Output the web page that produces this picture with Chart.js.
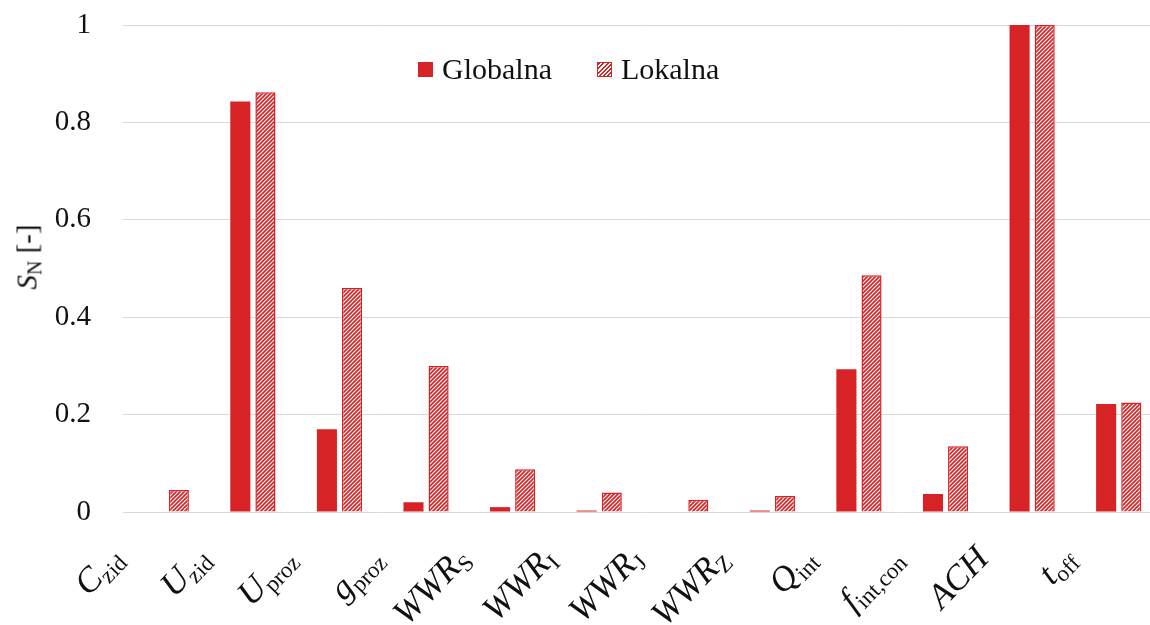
<!DOCTYPE html>
<html><head><meta charset="utf8"/>
<style>
body{margin:0;overflow:hidden;background:#fff;}
#wrap{position:relative;width:1165px;height:625px;font-family:'Liberation Serif','Times New Roman',serif;color:#111;}
.xl{position:absolute;white-space:nowrap;font-size:35px;line-height:35px;transform-origin:100% 50%;transform:translate(-100%,-50%) rotate(-46deg);}
.xl i{font-style:italic;}
.xl sub{font-size:23px;vertical-align:-6px;line-height:0;}
#ytitle{position:absolute;left:27px;top:257px;white-space:nowrap;font-size:29px;transform:translate(-50%,-50%) rotate(-90deg);}
#ytitle sub{font-size:20px;vertical-align:-5px;line-height:0;}
#legend{position:absolute;left:418px;top:52px;font-size:30px;display:flex;align-items:center;white-space:nowrap;}
#legend .box{display:inline-block;width:15px;height:15px;margin-right:9px;box-sizing:border-box;}
#legend .item{display:flex;align-items:center;margin-right:45px;}
</style></head>
<body>
<div id="wrap">
<canvas id="c" width="1165" height="625"></canvas>
<div id="ytitle"><i>S</i><sub>N</sub> [-]</div>
<div id="legend"></div>
</div>
<script src="https://cdn.jsdelivr.net/npm/chart.js"></script>
<script>
const labelMain = ['C', 'U', 'U', 'g', 'WWR', 'WWR', 'WWR', 'WWR', 'Q', 'f', 'ACH', 't'];
const labelSub  = ['zid', 'zid', 'proz', 'proz', 'S', 'I', 'J', 'Z', 'int', 'int,con', '', 'off'];
const globalna  = [0, 0.843, 0.170, 0.020, 0.010, 0.003, 0, 0.003, 0.293, 0.037, 1, 0.222];
const lokalna   = [0.045, 0.862, 0.460, 0.300, 0.088, 0.040, 0.025, 0.033, 0.486, 0.135, 1, 0.225];
const seriesNames = ['Globalna', 'Lokalna'];
const yTicks = [0, 0.2, 0.4, 0.6, 0.8, 1];

const RED = '#d72326';

function hatch() {
	const p = document.createElement('canvas');
	p.width = 4; p.height = 4;
	const g = p.getContext('2d');
	g.fillStyle = '#fff';
	g.fillRect(0, 0, 4, 4);
	g.strokeStyle = RED;
	g.lineWidth = 1.7;
	g.beginPath();
	g.moveTo(-1, 5); g.lineTo(5, -1);
	g.moveTo(-1, 1); g.lineTo(1, -1);
	g.moveTo(3, 5); g.lineTo(5, 3);
	g.stroke();
	return g.createPattern(p, 'repeat');
}
const pat = hatch();

const chart = new Chart(document.getElementById('c'), {
	type: 'bar',
	data: {
		labels: labelMain.map((m, i) => m + labelSub[i]),
		datasets: [
			{label: seriesNames[0], data: globalna, backgroundColor: RED, borderWidth: 0},
			{label: seriesNames[1], data: lokalna, backgroundColor: pat, borderColor: RED, borderWidth: 1.5},
		]
	},
	options: {
		responsive: false,
		animation: false,
		categoryPercentage: 0.58,
		barPercentage: 0.8,
		layout: {padding: {top: 25, right: 3, left: 0, bottom: 0}},
		scales: {
			x: {
				grid: {display: false},
				border: {display: false},
				ticks: {display: false},
				afterFit: s => { s.height = 113; },
			},
			y: {
				min: 0, max: 1,
				afterBuildTicks: s => { s.ticks = yTicks.map(v => ({value: v})); },
				grid: {color: '#d9d9d9', lineWidth: 1, drawTicks: false},
				border: {display: false},
				ticks: {
					padding: 32,
					color: '#111',
					font: {family: "'Liberation Serif', serif", size: 29},
					callback: v => String(v),
				},
				afterFit: s => { s.width = 123; s.paddingTop = 0; s.paddingBottom = 0; },
			}
		},
		plugins: {
			legend: {display: false},
			tooltip: {enabled: false},
		}
	}
});

// x labels with subscripts, placed from the category scale
const wrap = document.getElementById('wrap');
const xs = chart.scales.x;
labelMain.forEach((m, i) => {
	const d = document.createElement('div');
	d.className = 'xl';
	d.innerHTML = '<i>' + m + '</i>' + (labelSub[i] ? '<sub>' + labelSub[i] + '</sub>' : '');
	d.style.left = (xs.getPixelForValue(i) - 50) + 'px';
	d.style.top = (xs.top + 40) + 'px';
	wrap.append(d);
});

// legend
const lg = document.getElementById('legend');
chart.data.datasets.forEach((ds, i) => {
	const it = document.createElement('span');
	it.className = 'item';
	const b = document.createElement('span');
	b.className = 'box';
	if (i === 0) b.style.background = RED;
	else {
		b.style.border = '1.5px solid ' + RED;
		b.style.background = 'repeating-linear-gradient(-45deg,#fff 0 1.5px,' + RED + ' 1.5px 3px)';
	}
	it.append(b, document.createTextNode(ds.label));
	lg.append(it);
});
</script>
</body></html>
